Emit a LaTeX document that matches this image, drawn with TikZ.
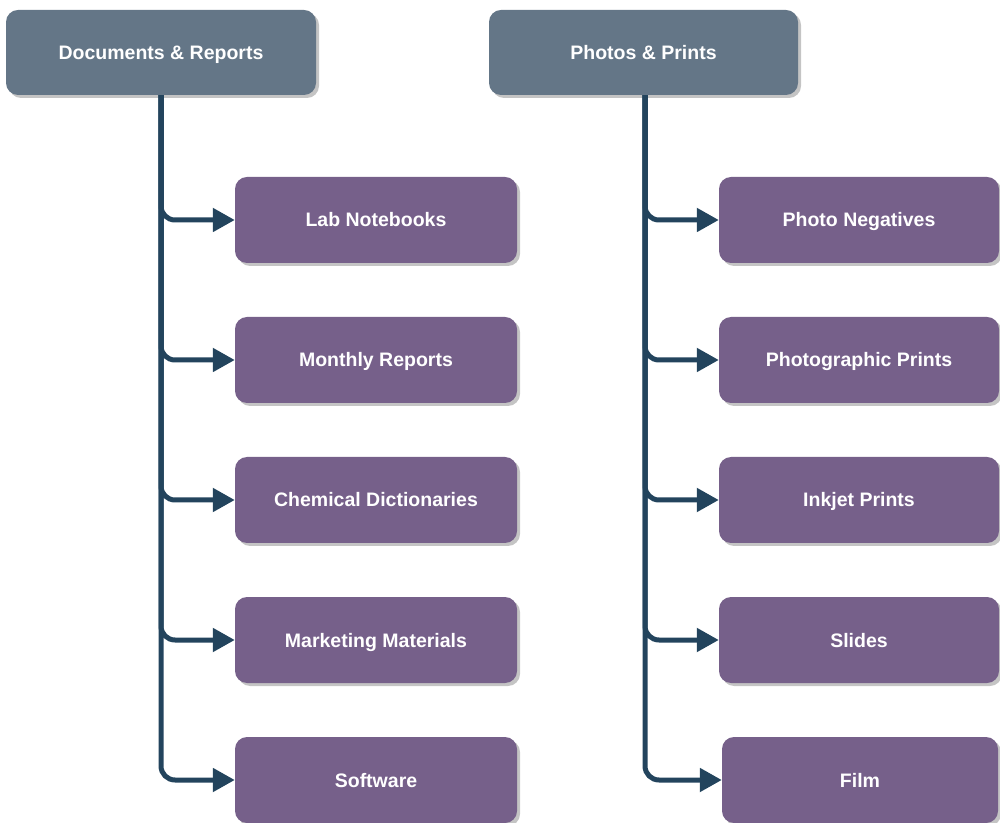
\documentclass[tikz,border=0pt]{standalone}
\usepackage{fontspec}
\setmainfont{Liberation Sans}
\usetikzlibrary{arrows.meta,shadows}
\definecolor{hdrfill}{HTML}{647687}
\definecolor{kidfill}{HTML}{76608A}
\definecolor{connclr}{HTML}{23445D}
\definecolor{shadowclr}{HTML}{C4C4C4}
\tikzset{
  box/.style={rounded corners=12pt, draw=none, text=white,
    font=\bfseries\fontsize{19.5}{23}\selectfont, inner sep=0pt,
    text height=18pt, text depth=4pt,
    drop shadow={shadow xshift=3pt, shadow yshift=-3pt, fill=shadowclr, opacity=1}},
  hdrbox/.style={box, fill=hdrfill, minimum height=85pt},
  kidbox/.style={box, fill=kidfill, minimum height=86pt},
  conn/.style={draw=connclr, line width=5pt, rounded corners=14pt,
    -{Triangle[length=22pt,width=23pt]}}
}
\begin{document}
\begin{tikzpicture}[x=1pt,y=1pt]
\useasboundingbox (0,0) rectangle (1000,822);
% headers
\node[hdrbox, minimum width=310pt] (h1) at (161,769.5) {Documents \& Reports};
\node[hdrbox, minimum width=309pt] (h2) at (643.5,769.5) {Photos \& Prints};
% left children
\node[kidbox, minimum width=282pt] (a1) at (376,602) {Lab Notebooks};
\node[kidbox, minimum width=282pt] (a2) at (376,462) {Monthly Reports};
\node[kidbox, minimum width=282pt] (a3) at (376,322) {Chemical Dictionaries};
\node[kidbox, minimum width=282pt] (a4) at (376,182) {Marketing Materials};
\node[kidbox, minimum width=282pt] (a5) at (376,42) {Software};
% right children
\node[kidbox, minimum width=280pt] (b1) at (859,602) {Photo Negatives};
\node[kidbox, minimum width=280pt] (b2) at (859,462) {Photographic Prints};
\node[kidbox, minimum width=280pt] (b3) at (859,322) {Inkjet Prints};
\node[kidbox, minimum width=280pt] (b4) at (859,182) {Slides};
\node[kidbox, minimum width=276pt] (b5) at (860,42) {Film};
% connectors
\foreach \k in {a1,a2,a3,a4,a5}{
  \draw[conn] (h1.south) |- (\k.west);
}
\coordinate (h2s) at ([xshift=1.5pt]h2.south);
\foreach \k in {b1,b2,b3,b4,b5}{
  \draw[conn] (h2s) |- (\k.west);
}
\end{tikzpicture}
\end{document}
